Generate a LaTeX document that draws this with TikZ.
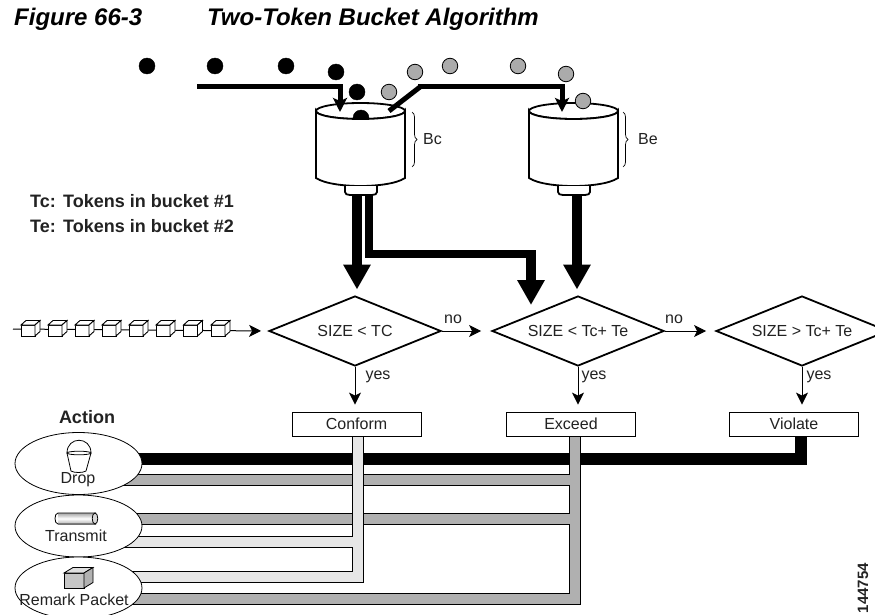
\documentclass[tikz,border=0pt]{standalone}
\usepackage{fontspec}
\setmainfont{Liberation Sans}
\usetikzlibrary{shapes.geometric,arrows.meta,decorations.pathreplacing}
\definecolor{txt}{HTML}{222222}
\definecolor{tokgray}{HTML}{ABABAB}
\definecolor{bandgray}{HTML}{B0B0B0}
\definecolor{bandlight}{HTML}{E6E6E6}
\tikzset{
  x=1pt,y=-1pt,
  lbl/.style={font=\fontsize{16}{18}\selectfont,text=txt,inner sep=0pt},
  boldlbl/.style={font=\fontsize{18}{20}\selectfont\bfseries,text=txt,inner sep=0pt},
  titlelbl/.style={anchor=base west,inner sep=0pt,font=\fontsize{24}{26}\selectfont\bfseries\itshape,text=black},
  tokb/.style={circle,fill=black,draw=black,minimum size=16pt,inner sep=0pt,line width=0.4pt},
  tokg/.style={circle,fill=tokgray,draw=black,line width=0.8pt,minimum size=15.5pt,inner sep=0pt},
  feed/.style={line width=5pt,-{Stealth[length=14pt,width=14pt,inset=3pt]}},
  bigflow/.style={line width=10.5pt,-{Triangle[length=25pt,width=26pt]}},
  decide/.style={diamond,aspect=2.457,draw=black,line width=1.8pt,fill=white,minimum width=172pt,minimum height=70pt,inner sep=0pt,font=\fontsize{16}{18}\selectfont,text=txt},
  result/.style={rectangle,draw=black,line width=0.8pt,fill=white,minimum width=129pt,minimum height=24pt,inner sep=0pt,font=\fontsize{16}{18}\selectfont,text=txt},
  thinflow/.style={line width=1pt,-{Stealth[length=12pt,width=12pt,inset=3pt]}},
  act/.style={ellipse,draw=black,line width=0.8pt,fill=white,minimum width=127pt,minimum height=62pt,inner sep=0pt},
  band/.style={draw=black,line width=0.8pt},
  cyl/.style={draw=black,line width=1.8pt,fill=white},
}
\newcommand{\mybucket}[1]{% left x
  \draw[cyl] (#1,111) arc[start angle=180,end angle=0,x radius=44.5,y radius=8]
     -- (#1+89,178) .. controls (#1+80,184) and (#1+60,186) .. (#1+44.5,186)
     .. controls (#1+29,186) and (#1+9,184) .. (#1,178) -- cycle;
  \draw[draw=black,line width=1.8pt,fill=white] (#1+29,186) -- (#1+29,192) .. controls (#1+29,194) and (#1+31,195) .. (#1+34,195) -- (#1+56,195)
     .. controls (#1+59,195) and (#1+61,194) .. (#1+61,192) -- (#1+61,186);
}
\newcommand{\mypacket}[1]{%
  \draw[line width=0.9pt,fill=white] (#1,325) rectangle (#1+14,336);
  \draw[line width=0.9pt,fill=white] (#1,325) -- (#1+5,320.5) -- (#1+19,320.5) -- (#1+14,325) -- cycle;
  \draw[line width=0.9pt,fill=white] (#1+14,325) -- (#1+19,320.5) -- (#1+19,331.5) -- (#1+14,336) -- cycle;
}
\begin{document}
\begin{tikzpicture}
\useasboundingbox[fill=white] (0,0) rectangle (875,615);
% title
\node[titlelbl] (ttl1) at (14,26) {Figure 66-3};
\node[titlelbl] (ttl2) at (207,26) {Two-Token Bucket Algorithm};
% tokens above the buckets
\node[tokb] (b1) at (147,66) {};
\node[tokb] (b2) at (215,66) {};
\node[tokb] (b3) at (286,66) {};
\node[tokb] (b4) at (336,72) {};
\node[tokb] (b5) at (357,92) {};
\node[tokg] (g1) at (389,92) {};
\node[tokg] (g2) at (415,72) {};
\node[tokg] (g3) at (450,66) {};
\node[tokg] (g4) at (518,66) {};
\node[tokg] (g5) at (566,74) {};
% bucket 1, with the token inside
\draw[draw=black,line width=1.8pt,fill=white] (360.5,111) ellipse[x radius=44.5,y radius=8];
\node[tokb] (b6) at (361,118) {};
\mybucket{316}
% bucket 2
\draw[draw=black,line width=1.8pt,fill=white] (573.5,111) ellipse[x radius=44.5,y radius=8];
\mybucket{529}
% named ends
\coordinate (feedA) at (197,87);
\coordinate (feedAin) at (340,112);
\coordinate (feedB) at (389,111);
\coordinate (feedBout) at (562,112);
\coordinate (spout1a) at (357,195);
\coordinate (spout1b) at (369,195);
\coordinate (spout2) at (577,195);
% feed lines
\draw[feed] (feedA) -| (feedAin);
\draw[line width=5pt] (feedB) -- (420,87);
\draw[feed] (418,87) -| (feedBout);
\node[tokg] (g6) at (583,101) {};
% braces
\draw[line width=0.7pt,decorate,decoration={brace,amplitude=5pt}] (412,112) -- (412,167);
\draw[line width=0.7pt,decorate,decoration={brace,amplitude=5pt}] (623,112) -- (623,167);
\node[lbl,anchor=west] (bc) at (423,139) {Bc};
\node[lbl,anchor=west] (be) at (638,139) {Be};
% legend
\node[boldlbl,anchor=base west] (tc) at (30,207) {Tc:};
\node[boldlbl,anchor=base west] (tct) at (63,207) {Tokens in bucket \#1};
\node[boldlbl,anchor=base west] (te) at (30,232) {Te:};
\node[boldlbl,anchor=base west] (tet) at (63,232) {Tokens in bucket \#2};
% decisions
\node[decide] (d1) at (355,331) {SIZE < TC};
\node[decide] (d2) at (578,331) {SIZE < Tc+ Te};
\node[decide] (d3) at (802,331) {SIZE > Tc+ Te};
% bucket outflows
\draw[bigflow] (spout1a) -- (357,289.5);
\draw[line width=8.5pt] (spout1b) |- (531,254);
\draw[bigflow] (531,250) -- (531,305);
\draw[bigflow] (spout2) -- (577,289.5);
% packets
\coordinate (qstart) at (13,329);
\draw[thinflow,shorten >=7pt] (qstart) -- (d1.west);
\foreach \px in {21,48,75,102,129,156,183.5,211} {\mypacket{\px}}
% results
\node[result] (r1) at (356.5,424) {Conform};
\node[result] (r2) at (571,424) {Exceed};
\node[result] (r3) at (794,424) {Violate};
% decision arrows
\draw[thinflow,shorten >=10pt] (d1.east) -- (d2.west);
\draw[thinflow,shorten >=9pt] (d2.east) -- (d3.west);
\draw[thinflow,shorten >=7pt] (d1.south) -- (d1.south |- r1.north);
\draw[thinflow,shorten >=7pt] (d2.south) -- (d2.south |- r2.north);
\draw[thinflow,shorten >=7pt] (d3.south) -- (d3.south |- r3.north);
\node[lbl] (no1) at (453,319) {no};
\node[lbl] (no2) at (674,319) {no};
\node[lbl] (y1) at (378,377) {yes};
\node[lbl] (y2) at (594,377) {yes};
\node[lbl] (y3) at (819,377) {yes};
% action bands
\fill[black] (100,453) rectangle (807,464.5);
\fill[black] (795,436) rectangle (807,464.5);
\filldraw[band,fill=bandgray] (100,474) -- (569,474) -- (569,436) -- (580.5,436) -- (580.5,604) -- (100,604) -- (100,593) -- (569,593) -- (569,524) -- (100,524) -- (100,513) -- (569,513) -- (569,485) -- (100,485) -- cycle;
\filldraw[band,fill=bandlight] (352,436) -- (363,436) -- (363,582) -- (100,582) -- (100,571.5) -- (352,571.5) -- (352,547) -- (100,547) -- (100,536) -- (352,536) -- cycle;
% actions
\node[boldlbl] (actt) at (87,417) {Action};
\node[act] (aDrop) at (78.5,463.5) {};
\node[act] (aTrans) at (78.5,526) {};
\node[act] (aRem) at (78.5,588) {};
\node[lbl] (tDrop) at (78,480) {Drop};
\node[lbl] (tTrans) at (76,536) {Transmit};
\node[lbl] (tRem) at (74,600) {Remark Packet};
% drop icon
\draw[line width=0.8pt,fill=white] (67,453) .. controls (67,436) and (91,436) .. (91,453);
\draw[line width=0.8pt,fill=white] (67,453) -- (71,471) .. controls (74,473) and (83,473) .. (86,471) -- (91,453);
\draw[line width=0.8pt] (79,453) ellipse[x radius=12,y radius=1.8];
% transmit icon
\shade[top color=gray!70,bottom color=gray!60,middle color=white] (58,513) rectangle (96,524);
\draw[line width=0.8pt] (96,513) -- (58,513) .. controls (54,513) and (54,524) .. (58,524) -- (96,524);
\draw[line width=0.8pt,fill=gray!30] (95,518.5) ellipse[x radius=2.8,y radius=5.5];
% remark icon
\draw[line width=0.8pt,fill=gray!45] (64,573) rectangle (84,588);
\draw[line width=0.8pt,fill=gray!25] (64,573) -- (73,567.5) -- (93,567.5) -- (84,573) -- cycle;
\draw[line width=0.8pt,fill=gray!60] (84,573) -- (93,567.5) -- (93,582.5) -- (84,588) -- cycle;
% figure number
\node[inner sep=0pt,rotate=90,font=\fontsize{15}{16}\selectfont\bfseries,text=txt] (fign) at (863,588) {144754};
\end{tikzpicture}
\end{document}
